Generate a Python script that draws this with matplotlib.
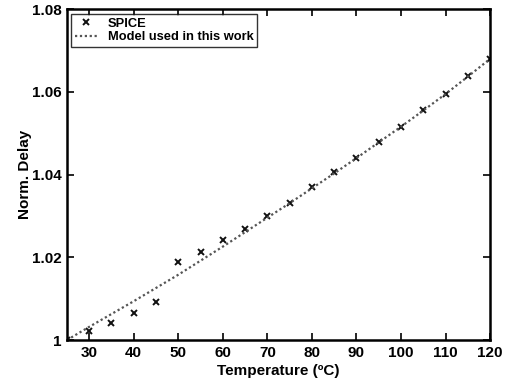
import matplotlib
matplotlib.use("Agg")
import matplotlib.pyplot as plt
from matplotlib.ticker import FixedLocator, FixedFormatter

temps = [25, 30, 35, 40, 45, 50, 55, 60, 65, 70, 75, 80, 85, 90, 95, 100, 105, 110, 115, 120]
spice = [1.0, 1.0022, 1.0042, 1.0066, 1.0092, 1.0190, 1.0214, 1.0241, 1.0269, 1.0300,
         1.0331, 1.0369, 1.0406, 1.0440, 1.0478, 1.0516, 1.0556, 1.0596, 1.0639, 1.0680]
model = [1.0, 1.0032, 1.0063, 1.0094, 1.0126, 1.0158, 1.0192, 1.0226, 1.0261, 1.0296,
         1.0331, 1.0367, 1.0403, 1.0440, 1.0478, 1.0516, 1.0555, 1.0595, 1.0637, 1.0680]
xticks = [30, 40, 50, 60, 70, 80, 90, 100, 110, 120]
yticks = [1.0, 1.02, 1.04, 1.06, 1.08]
ytick_labels = ["1", "1.02", "1.04", "1.06", "1.08"]

plt.rcParams['font.family'] = ['Liberation Sans', 'DejaVu Sans']
plt.rcParams['font.weight'] = 'bold'

fig = plt.figure(figsize=(5.11, 3.86), dpi=100)
ax = fig.add_axes([0.131, 0.119, 0.828, 0.857])

ax.plot(temps, spice, linestyle='none', marker='x', markersize=4,
        color='#111111', markeredgewidth=1.4, label='SPICE')
ax.plot(temps, model, linestyle=(0, (1, 1.2)), color='#555555', linewidth=1.6,
        label='Model used in this work')

ax.set_xlim(25, 120)
ax.set_ylim(1.0, 1.08)
ax.xaxis.set_major_locator(FixedLocator(xticks))
ax.yaxis.set_major_locator(FixedLocator(yticks))
ax.yaxis.set_major_formatter(FixedFormatter(ytick_labels))

ax.tick_params(direction='in', top=True, right=True, length=5, width=1.2,
               labelsize=11, pad=4)
for lab in ax.get_xticklabels() + ax.get_yticklabels():
    lab.set_fontweight('bold')
for sp in ax.spines.values():
    sp.set_linewidth(1.8)

ax.set_xlabel('Temperature (ºC)', fontsize=11, fontweight='bold', labelpad=3)
ax.set_ylabel('Norm. Delay', fontsize=11, fontweight='bold', labelpad=0)

leg = ax.legend(loc='upper left', frameon=True, fancybox=False,
                edgecolor='black', borderpad=0.3, labelspacing=0.1,
                handlelength=1.7, handletextpad=0.8, borderaxespad=0.35,
                prop={'weight': 'bold', 'size': 9.3})
leg.get_frame().set_linewidth(1.0)

fig.savefig('out.png', dpi=100)
